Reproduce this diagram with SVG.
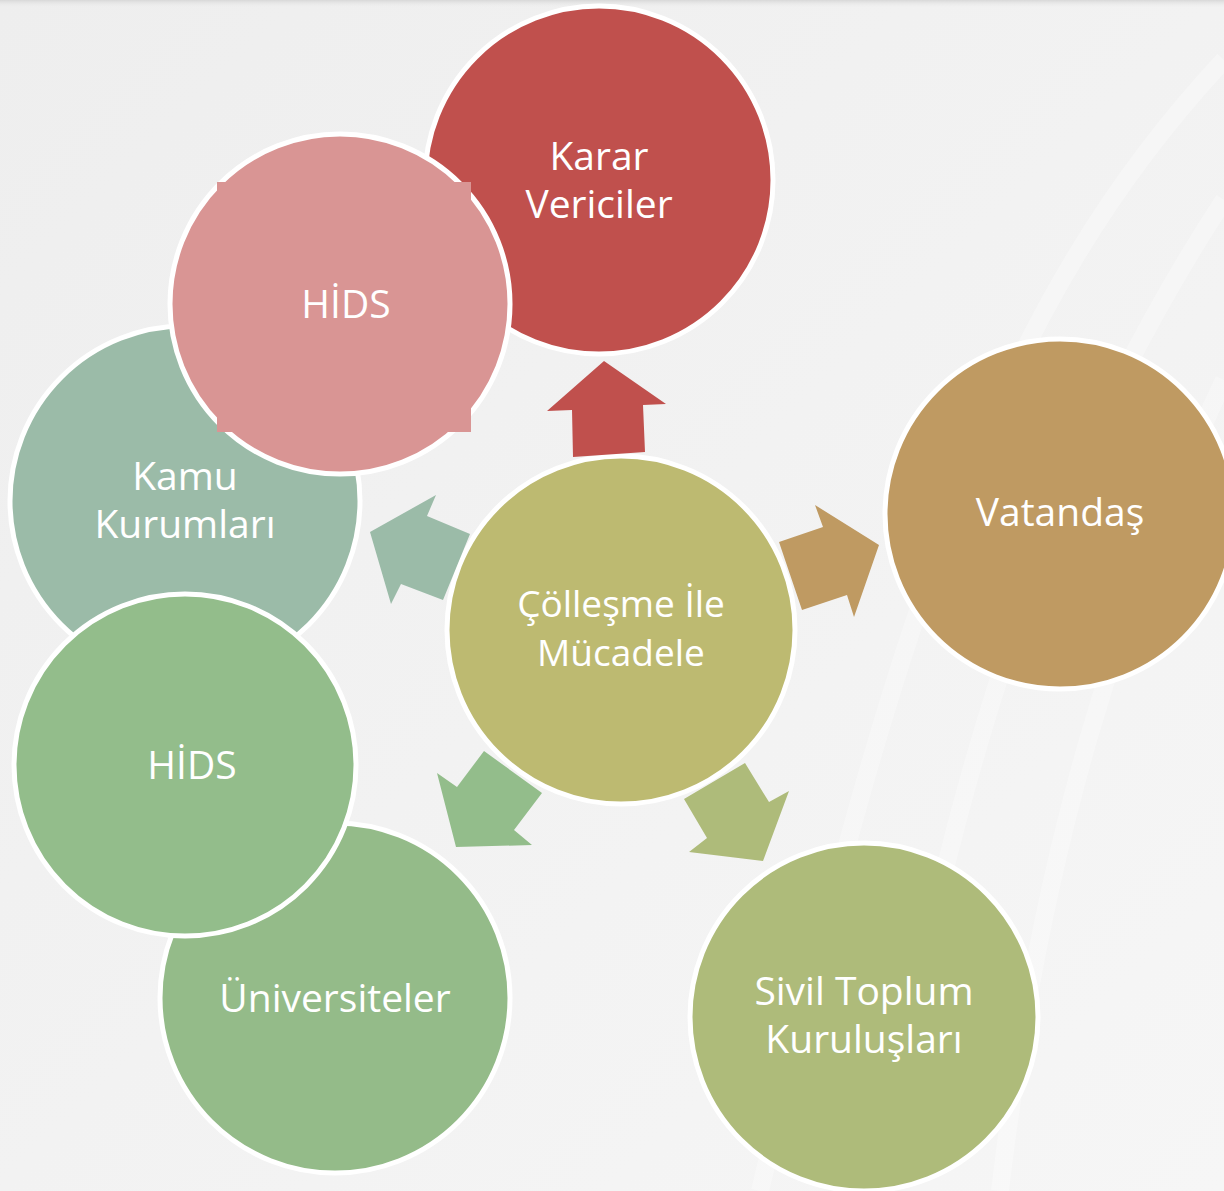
<svg xmlns="http://www.w3.org/2000/svg" width="1224" height="1191" viewBox="0 0 1224 1191">
<defs>
<linearGradient id="bg" x1="0" y1="0" x2="1" y2="1">
<stop offset="0" stop-color="#EEEEEE"/>
<stop offset="1" stop-color="#F6F6F6"/>
</linearGradient>
<linearGradient id="topshade" x1="0" y1="0" x2="0" y2="1">
<stop offset="0" stop-color="#D8D8D8"/>
<stop offset="1" stop-color="#F0F0F0" stop-opacity="0"/>
</linearGradient>
</defs>
<style>
.c{stroke:#FFFFFF;stroke-width:5}
.t{font-family:"Open Sans","Noto Sans",sans-serif;font-size:39px;fill:#FFFFFF;text-anchor:middle}
.s{font-size:37px}
</style>
<rect width="1224" height="1191" fill="url(#bg)"/>
<rect width="1224" height="8" fill="url(#topshade)"/>
<g fill="none" stroke="#FFFFFF" stroke-opacity="0.3" stroke-width="18">
<path d="M1224 60 C1000 300 900 600 760 1191"/>
<path d="M1224 200 C1080 420 960 700 880 1191"/>
<path d="M1224 380 C1120 600 1040 850 1000 1191"/>
</g>
<g id="node-karar"><circle class="c" cx="599" cy="180" r="174" fill="#C0504D"/><text class="t" x="599" y="170">Karar</text><text class="t" x="599" y="218">Vericiler</text></g>
<g id="node-kamu"><circle class="c" cx="185" cy="501" r="175" fill="#9BBBA8"/><text class="t" x="185" y="490">Kamu</text><text class="t" x="185" y="538">Kurumları</text></g>
<g id="node-universiteler"><circle class="c" cx="335" cy="998" r="175" fill="#94BB89"/><text class="t" x="335" y="1012">Üniversiteler</text></g>
<g id="node-hids-green"><circle class="c" cx="185" cy="765" r="171" fill="#93BD8B"/><text class="t" x="192" y="779">HİDS</text></g>
<g id="node-hids-pink"><circle class="c" cx="340" cy="304" r="170" fill="#D99594"/><rect x="217" y="182" width="254" height="250" fill="#D99594"/><text class="t" x="346" y="318">HİDS</text></g>
<g id="node-center"><circle class="c" cx="621" cy="630" r="174" fill="#BDBA71"/><text class="t s" x="621" y="617">Çölleşme İle</text><text class="t s" x="621" y="666">Mücadele</text></g>
<g id="node-vatandas"><circle class="c" cx="1060" cy="514" r="175" fill="#BF9A62"/><text class="t" x="1060" y="526">Vatandaş</text></g>
<g id="node-sivil"><circle class="c" cx="864" cy="1017" r="174" fill="#AEBB7A"/><text class="t" x="864" y="1005">Sivil Toplum</text><text class="t" x="864" y="1053">Kuruluşları</text></g>
<g id="connectors">
<polygon points="604,361 666,404 643,405 645,452 573,457 572,410 547,411" fill="#C0504D"/>
<polygon points="370,532 436,495 427,516 470,534 443,600 401,584 391,604" fill="#9BBBA8"/>
<polygon points="456,847 437,773 457,787 484,751 542,793 514,830 532,845" fill="#93BD8B"/>
<polygon points="684,799 745,763 769,802 789,791 763,861 689,852 707,838" fill="#AEBB7A"/>
<polygon points="779,542 823,527 815,505 879,545 854,617 847,595 802,610" fill="#BF9A62"/>
</g>
</svg>
